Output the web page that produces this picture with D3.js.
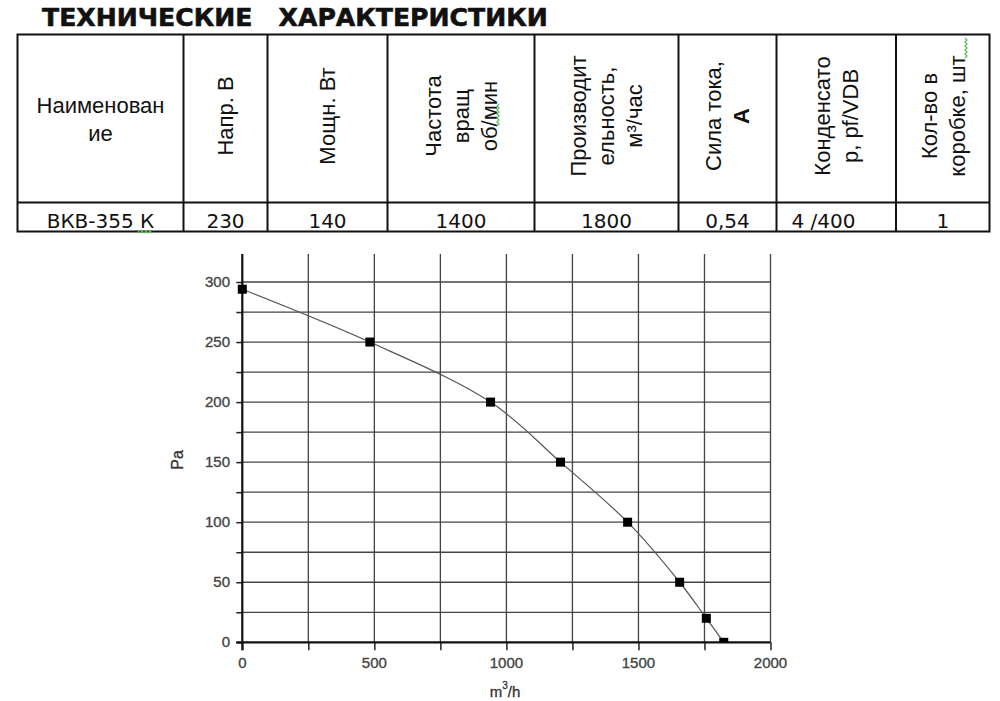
<!DOCTYPE html>
<html>
<head>
<meta charset="utf-8">
<script src="https://cdn.jsdelivr.net/npm/d3@7"></script>
<style>
  html, body { margin: 0; padding: 0; background: #fff; }
  svg { display: block; }
</style>
</head>
<body>
<div id="chart"></div>
<script>
// table data
const title = "ТЕХНИЧЕСКИЕ   ХАРАКТЕРИСТИКИ";
const headers = [
  ["Наименован", "ие"],
  ["Напр. В"],
  ["Мощн. Вт"],
  ["Частота", "вращ", "об/мин"],
  ["Производит", "ельность,", "м³/час"],
  ["Сила тока,", "А"],
  ["Конденсато", "р, pf/VDB"],
  ["Кол-во в", "коробке, шт"]
];
const rowValues = ["ВКВ-355 К", "230", "140", "1400", "1800", "0,54", "4 /400", "1"];

// curve data: flow m3/h vs pressure Pa
const flow = [0, 483, 940, 1205, 1459, 1656, 1757, 1823];
const pressure = [294, 250, 200, 150, 100, 50, 20, 0];
const xTicks = [0, 500, 1000, 1500, 2000];
const yTicks = [0, 50, 100, 150, 200, 250, 300];

const W = 1000, H = 701;
const svg = d3.select("#chart").append("svg")
  .attr("width", W).attr("height", H);

// ---- title ----
const t = svg.append("text")
  .attr("x", 42).attr("y", 26)
  .style("white-space", "pre")
  .attr("font-family", "DejaVu Sans")
  .attr("font-weight", "bold")
  .attr("font-size", 24)
  .attr("fill", "#111")
  .attr("stroke", "#111").attr("stroke-width", 0.6)
  .text(title);
// fit title to its width in the picture
const tw = t.node().getComputedTextLength();
t.attr("font-size", 24 * 506 / tw);

// ---- table ----
const colEdges = [17.5, 183.5, 267.5, 387.5, 534.5, 678.5, 776.5, 896, 989.5];
const tTop = 34.5, headBottom = 202.5, tBottom = 231.5;
const table = svg.append("g");

table.append("rect")
  .attr("x", colEdges[0]).attr("y", tTop)
  .attr("width", colEdges[colEdges.length - 1] - colEdges[0])
  .attr("height", tBottom - tTop)
  .attr("fill", "none").attr("stroke", "#111").attr("stroke-width", 2);
table.append("line")
  .attr("x1", colEdges[0]).attr("x2", colEdges[colEdges.length - 1])
  .attr("y1", headBottom).attr("y2", headBottom)
  .attr("stroke", "#111").attr("stroke-width", 2);
table.selectAll("line.col")
  .data(colEdges.slice(1, -1))
  .enter().append("line")
  .attr("class", "col")
  .attr("x1", d => d).attr("x2", d => d)
  .attr("y1", tTop).attr("y2", tBottom)
  .attr("stroke", "#111").attr("stroke-width", 2);

const hfs = 22, lh = 28;
headers.forEach((lines, i) => {
  const cx = (colEdges[i] + colEdges[i + 1]) / 2;
  const n = lines.length;
  const g = table.append("g")
    .attr("transform", i === 0 ? `translate(${cx},119)` : `translate(${cx},116) rotate(-90)`);
  lines.forEach((s, j) => {
    g.append("text")
      .attr("x", 0)
      .attr("y", (j - (n - 1) / 2) * lh + hfs * 0.36)
      .attr("text-anchor", "middle")
      .attr("font-family", "Liberation Sans")
      .attr("font-size", hfs)
      .attr("font-weight", i === 5 && j === 1 ? "bold" : "normal")
      .attr("fill", "#111")
      .text(s);
  });
});

rowValues.forEach((v, i) => {
  const cx = (colEdges[i] + colEdges[i + 1]) / 2;
  const left = i === 6;
  table.append("text")
    .attr("x", left ? colEdges[i] + 15 : cx)
    .attr("y", 228)
    .attr("text-anchor", left ? "start" : "middle")
    .attr("font-family", "DejaVu Sans")
    .attr("font-size", 20)
    .attr("fill", "#111")
    .text(v);
});

// spell-check squiggles (green wavy underlines)
function squiggle(x, y, len, vertical) {
  let d = "";
  for (let k = 0; k <= len; k += 2) {
    const off = (k / 2) % 2 === 0 ? 0 : 2;
    d += (k === 0 ? "M" : "L") + (vertical ? `${x + off},${y - k}` : `${x + k},${y + off}`);
  }
  svg.append("path").attr("d", d).attr("fill", "none")
    .attr("stroke", "#5cb85c").attr("stroke-width", 1.2);
}
squiggle(138, 231, 14, false);
squiggle(497, 126, 22, true);
squiggle(965, 58, 20, true);

// ---- chart ----
const x = d3.scaleLinear().domain([0, 2000]).range([242.3, 770.5]);
const y = d3.scaleLinear().domain([0, 300]).range([642.3, 282]);
const yTop = 254;
const chart = svg.append("g");

// grid
const hGrid = d3.range(25, 325, 25);
chart.selectAll("line.hg").data(hGrid).enter().append("line")
  .attr("x1", x(0)).attr("x2", x(2000))
  .attr("y1", d => y(d)).attr("y2", d => y(d))
  .attr("stroke", "#444").attr("stroke-width", 1.3);
const vGrid = d3.range(250, 2250, 250);
chart.selectAll("line.vg").data(vGrid).enter().append("line")
  .attr("x1", d => x(d)).attr("x2", d => x(d))
  .attr("y1", y(0)).attr("y2", yTop)
  .attr("stroke", "#444").attr("stroke-width", 1.3);

// axes
const yAxis = chart.append("g").attr("transform", `translate(${x(0)},0)`)
  .call(d3.axisLeft(y).tickValues(d3.range(0, 325, 25)).tickSize(6).tickFormat(""));
yAxis.select(".domain").remove();
yAxis.selectAll("line").attr("stroke", "#222").attr("stroke-width", 1.5);
chart.append("line")
  .attr("x1", x(0)).attr("x2", x(0)).attr("y1", y(0) + 8).attr("y2", yTop)
  .attr("stroke", "#111").attr("stroke-width", 2.2);

const xAxis = chart.append("g").attr("transform", `translate(0,${y(0)})`)
  .call(d3.axisBottom(x).tickValues(d3.range(0, 2250, 250)).tickSize(8).tickFormat(""));
xAxis.select(".domain").remove();
xAxis.selectAll("line").attr("stroke", "#222").attr("stroke-width", 1.5);
chart.append("line")
  .attr("x1", x(0) - 6).attr("x2", x(2000)).attr("y1", y(0)).attr("y2", y(0))
  .attr("stroke", "#111").attr("stroke-width", 2.2);

// tick labels
chart.selectAll("text.yl").data(yTicks).enter().append("text")
  .attr("x", 230).attr("y", d => y(d) + 5)
  .attr("text-anchor", "end")
  .attr("font-family", "Liberation Sans").attr("font-size", 15)
  .attr("fill", "#444").attr("stroke", "#444").attr("stroke-width", 0.35)
  .text(d => d);
chart.selectAll("text.xl").data(xTicks).enter().append("text")
  .attr("x", d => x(d)).attr("y", 668)
  .attr("text-anchor", "middle")
  .attr("font-family", "Liberation Sans").attr("font-size", 15)
  .attr("fill", "#444").attr("stroke", "#444").attr("stroke-width", 0.35)
  .text(d => d);

// axis titles
chart.append("text")
  .attr("transform", `translate(183,460) rotate(-90)`)
  .attr("text-anchor", "middle")
  .attr("font-family", "Liberation Sans").attr("font-size", 16)
  .attr("fill", "#333").attr("stroke", "#333").attr("stroke-width", 0.3)
  .text("Pa");
const xt = chart.append("text")
  .attr("x", 505).attr("y", 697)
  .attr("text-anchor", "middle")
  .attr("font-family", "Liberation Sans").attr("font-size", 15)
  .attr("fill", "#333").attr("stroke", "#333").attr("stroke-width", 0.3);
xt.append("tspan").text("m");
xt.append("tspan").attr("dy", -8).attr("font-size", 10).text("3");
xt.append("tspan").attr("dy", 8).text("/h");

// curve
const pts = flow.map((f, i) => [f, pressure[i]]);
const line = d3.line().x(d => x(d[0])).y(d => y(d[1])).curve(d3.curveCatmullRom.alpha(0.5));
chart.append("path")
  .attr("d", line(pts))
  .attr("fill", "none").attr("stroke", "#555").attr("stroke-width", 1.2);

// markers, clipped at the x axis
svg.append("clipPath").attr("id", "plotclip")
  .append("rect").attr("x", 230).attr("y", 240).attr("width", 560).attr("height", y(0) - 240);
chart.append("g").attr("clip-path", "url(#plotclip)")
  .selectAll("rect.m").data(pts).enter().append("rect")
  .attr("x", d => x(d[0]) - 4.5).attr("y", d => y(d[1]) - 4.5)
  .attr("width", 9).attr("height", 9)
  .attr("fill", "#000");
</script>
</body>
</html>
